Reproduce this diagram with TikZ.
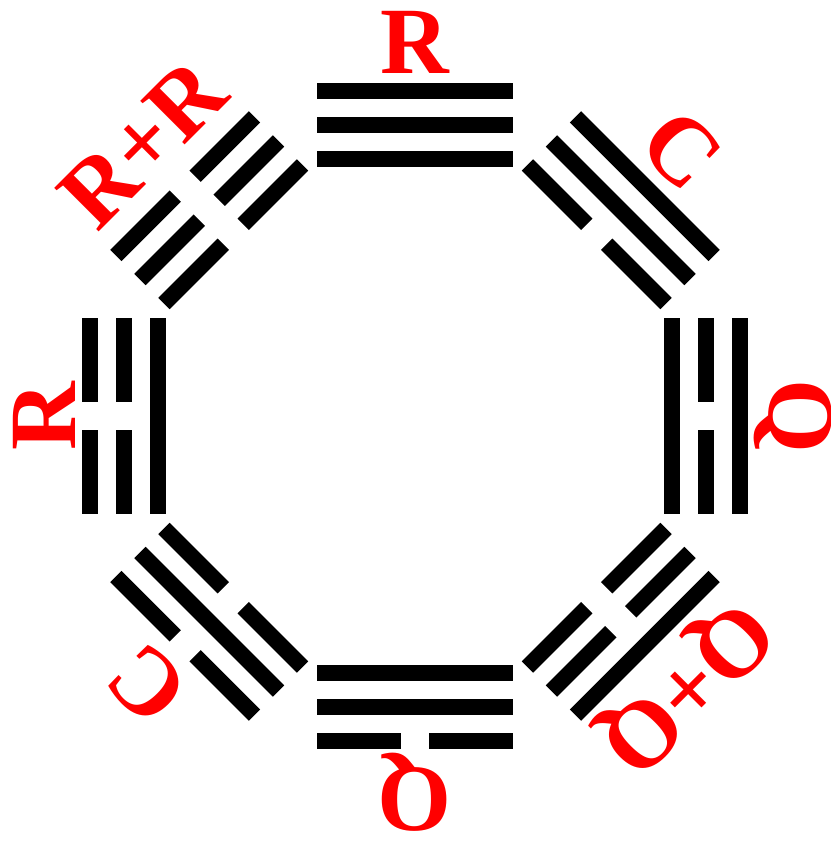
\documentclass[tikz,border=0pt]{standalone}
\usepackage{fontspec}
\setmainfont{Liberation Serif}
\begin{document}
\begin{tikzpicture}[x=1pt,y=1pt]
\tikzset{
  bar/.style={fill=black},
  lab/.style={text=red, font=\fontsize{95}{95}\selectfont\bfseries, inner sep=0pt, anchor=base}
}
\clip (0,0) rectangle (830,-843);
\fill[white] (0,0) rectangle (830,-843);
\coordinate (O) at (415,-416);
% trigrams: angle / inner / middle / outer (1 = solid, 0 = broken)
\foreach \a/\i/\m/\o in {0/1/1/1, -45/0/1/1, -90/1/0/1, -135/0/0/1, 180/1/1/0, 135/0/1/0, 90/1/0/0, 45/0/0/0} {
  \begin{scope}[shift={(O)}, rotate=\a]
    \foreach \r/\s in {257/\i, 291/\m, 325/\o} {
      \ifnum\s=1
        \fill[bar] (-98,\r-8) rectangle (98,\r+8);
      \else
        \fill[bar] (-98,\r-8) rectangle (-14,\r+8);
        \fill[bar] (14,\r-8) rectangle (98,\r+8);
      \fi
    }
  \end{scope}
}
\begin{scope}[shift={(O)}]
  \node[lab] (lR) at (90:342) {R};
  \node[lab, rotate=-45] (lC1) at (45:346) {C};
  \node[lab, rotate=-90] (lQ1) at (0:354) {Q};
  \node[lab, rotate=-135] (lQQ) at (-45:356) {Q+Q};
  \node[lab, rotate=180] (lQ2) at (-90:352) {Q};
  \node[lab, rotate=135] (lC2) at (-135:348) {C};
  \node[lab, rotate=90] (lR2) at (180:340) {R};
  \node[lab, rotate=45] (lRR) at (135:354) {R+R};
\end{scope}
\end{tikzpicture}
\end{document}
